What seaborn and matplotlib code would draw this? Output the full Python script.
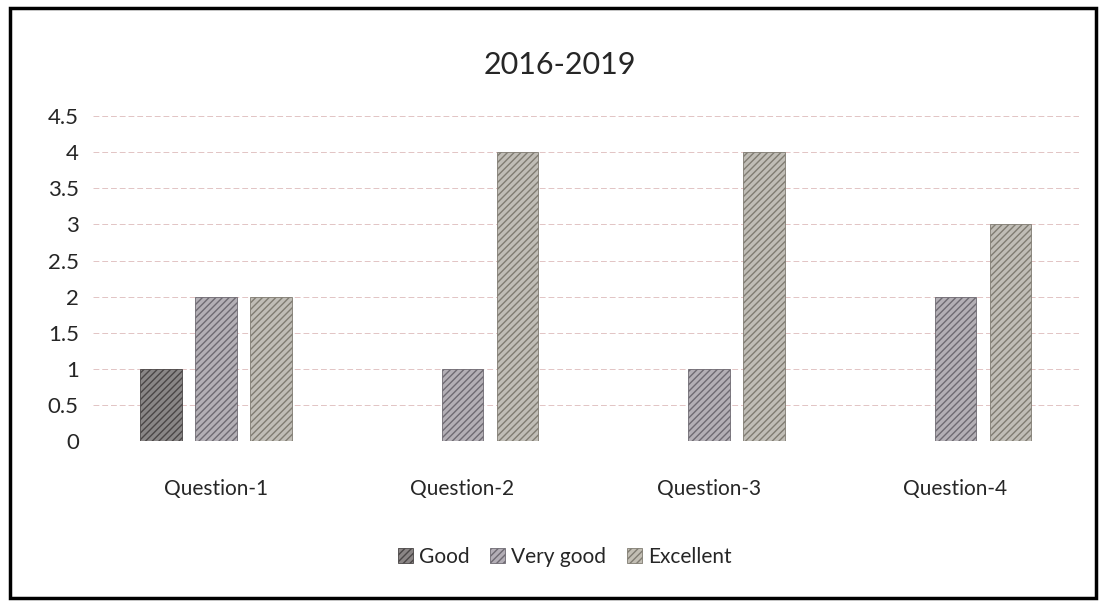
import pandas as pd
import matplotlib.pyplot as plt
import seaborn as sns
from matplotlib.patches import Rectangle

# data
questions = ['Question-1', 'Question-2', 'Question-3', 'Question-4']
good = [1, 0, 0, 0]
very_good = [2, 1, 1, 2]
excellent = [2, 4, 4, 3]
series = ['Good', 'Very good', 'Excellent']
y_ticks = [0, 0.5, 1, 1.5, 2, 2.5, 3, 3.5, 4, 4.5]

df = pd.DataFrame({'question': questions, 'Good': good,
                   'Very good': very_good, 'Excellent': excellent})
long_df = df.melt(id_vars='question', value_vars=series,
                  var_name='rating', value_name='count')

sns.set_theme(style="white")
plt.rcParams['font.family'] = ['Lato', 'DejaVu Sans']

colors = {'Good': '#8a8585', 'Very good': '#b3aeb6', 'Excellent': '#c2beb4'}
hatch_colors = {'Good': '#4a4646', 'Very good': '#6e6a72', 'Excellent': '#807c72'}

fig = plt.figure(figsize=(11.03, 6.05), dpi=100)
ax = fig.add_axes([0.084, 0.271, 0.894, 0.537])

sns.barplot(data=long_df, x='question', y='count', hue='rating',
            hue_order=series, palette=colors, width=0.67, gap=0.24,
            ax=ax, legend=False)

for cont, name in zip(ax.containers, series):
    for bar in cont:
        bar.set_hatch('/////')
        bar.set_edgecolor(hatch_colors[name])
        bar.set_linewidth(0.6)

ax.set_ylim(0, 4.5)
ax.set_yticks(y_ticks)
ax.set_yticklabels([f'{t:g}' for t in y_ticks])
ax.yaxis.grid(True, color='#e2c4c4', linestyle=(0, (6, 3)), linewidth=0.7)
ax.set_axisbelow(True)
for s in ax.spines.values():
    s.set_visible(False)
ax.set_xlabel('')
ax.set_ylabel('')
ax.tick_params(axis='y', labelsize=16, length=0, pad=10)
ax.tick_params(axis='x', labelsize=15, length=0, pad=27)

fig.text(0.508, 0.892, '2016-2019', ha='center', va='center', fontsize=22)

# legend at the bottom
handles = [Rectangle((0, 0), 1, 1, facecolor=colors[n], edgecolor=hatch_colors[n],
                     hatch='/////', linewidth=0.6) for n in series]
fig.legend(handles, series, loc='center', bbox_to_anchor=(0.512, 0.08), ncol=3,
           frameon=False, fontsize=15, handlelength=0.7, handleheight=0.7,
           handletextpad=0.3, columnspacing=1.0)

# frame around the chart
fig.patches.append(Rectangle((0.009, 0.012), 0.985, 0.975, transform=fig.transFigure,
                             fill=False, edgecolor='black', linewidth=2.5))

plt.savefig('out.png', dpi=100)
